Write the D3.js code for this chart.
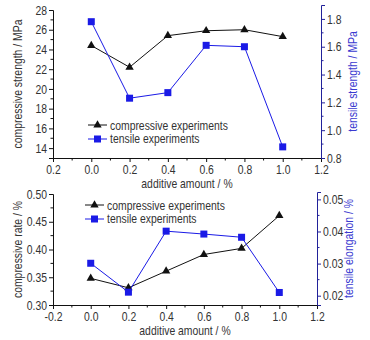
<!DOCTYPE html>
<html>
<head>
<meta charset="utf-8">
<script src="https://cdn.jsdelivr.net/npm/d3@7"></script>
<style>
  body { margin: 0; background: #fff; }
  text { font-family: "Liberation Sans", Arial, sans-serif; }
</style>
</head>
<body>
<div id="chart"></div>
<script>

// data
let amount = [0.0, 0.2, 0.4, 0.6, 0.8, 1.0];

let compStrength = [24.4, 22.2, 25.4, 25.9, 26.0, 25.3];
let tensStrength = [1.78, 1.23, 1.27, 1.61, 1.60, 0.88];

let compRate = [0.348, 0.331, 0.361, 0.391, 0.402, 0.461];
let tensElong = [0.0301, 0.0211, 0.0401, 0.0392, 0.0382, 0.0210];

let xTicks = [-0.2, 0.0, 0.2, 0.4, 0.6, 0.8, 1.0, 1.2];
let xLabelsTop = ["0.2", "0.0", "0.2", "0.4", "0.6", "0.8", "1.0", "1.2"];
let xLabelsBottom = ["-0.2", "0.0", "0.2", "0.4", "0.6", "0.8", "1.0", "1.2"];

let leftTicksTop = [14, 16, 18, 20, 22, 24, 26, 28];
let rightTicksTop = [0.8, 1.0, 1.2, 1.4, 1.6, 1.8];
let leftTicksBottom = [0.30, 0.35, 0.40, 0.45, 0.50];
let rightTicksBottom = [0.02, 0.03, 0.04, 0.05];

let legendNames = ["compressive experiments", "tensile experiments"];

let blackC = "#111";
let blueC = "#1a1ae6";
let axisBlue = "#22229a";
let squeeze = 0.8; // the font in the picture is a narrow one

let svg = d3.select("#chart")
  .append("svg")
    .attr("width", 370)
    .attr("height", 340)
    .style("background", "#fff");

// squeeze text horizontally, keeping its anchor where it was
function narrow(sel) {
  sel.each(function () {
    let t = d3.select(this);
    let xv = +t.attr("x") || 0;
    t.attr("x", xv / squeeze)
      .attr("transform", (t.attr("transform") || "") + ` scale(${squeeze},1)`);
  });
}

function drawPanel(p) {
  let g = svg.append("g");

  let x = d3.scaleLinear().domain([-0.2, 1.2]).range([p.left, p.right]);
  let yL = d3.scaleLinear().domain(p.leftDomain).range([p.bottom, p.topL]);
  let yR = d3.scaleLinear().domain(p.rightDomain).range([p.bottom, p.topR]);

  // x axis
  let xAxis = g.append("g")
    .attr("transform", `translate(0,${p.bottom})`)
    .call(d3.axisBottom(x)
      .tickValues(xTicks)
      .tickSize(4)
      .tickPadding(3)
      .tickFormat((d, i) => p.xLabels[i]));
  xAxis.select(".domain").attr("stroke", blackC);
  xAxis.selectAll(".tick line").attr("stroke", blackC);
  xAxis.selectAll(".tick text").attr("fill", "#333").style("font-size", "13px").call(narrow);
  xAxis.selectAll("minor")
    .data(d3.range(-0.1, 1.2, 0.2))
    .join("line")
    .attr("x1", d => x(d)).attr("x2", d => x(d))
    .attr("y1", 0).attr("y2", 2.5)
    .attr("stroke", blackC);

  // left axis
  let lAxis = g.append("g")
    .attr("transform", `translate(${p.left},0)`)
    .call(d3.axisLeft(yL)
      .tickValues(p.leftTicks)
      .tickSize(4)
      .tickPadding(2)
      .tickFormat(p.leftFormat));
  lAxis.select(".domain").attr("stroke", blackC);
  lAxis.selectAll(".tick line").attr("stroke", blackC);
  lAxis.selectAll(".tick text").attr("fill", "#333").style("font-size", "13px").call(narrow);
  lAxis.selectAll("minor")
    .data(p.leftMinor)
    .join("line")
    .attr("x1", 0).attr("x2", -2.5)
    .attr("y1", d => yL(d)).attr("y2", d => yL(d))
    .attr("stroke", blackC);

  // right axis
  let rAxis = g.append("g")
    .attr("transform", `translate(${p.right},0)`)
    .call(d3.axisRight(yR)
      .tickValues(p.rightTicks)
      .tickSize(4)
      .tickPadding(2)
      .tickFormat(p.rightFormat));
  rAxis.select(".domain").attr("stroke", axisBlue);
  rAxis.selectAll(".tick line").attr("stroke", axisBlue);
  rAxis.selectAll(".tick text").attr("fill", "#333").style("font-size", "13px").call(narrow);
  rAxis.selectAll("minor")
    .data(p.rightMinor)
    .join("line")
    .attr("x1", 0).attr("x2", 2.5)
    .attr("y1", d => yR(d)).attr("y2", d => yR(d))
    .attr("stroke", axisBlue);

  // axis titles
  g.append("text")
    .attr("transform", `translate(${p.left - 31},${(p.bottom + p.topL) / 2}) rotate(-90)`)
    .attr("text-anchor", "middle")
    .style("font-size", "13px")
    .attr("fill", "#333")
    .text(p.leftTitle)
    .call(narrow);

  g.append("text")
    .attr("transform", `translate(${p.right + 36},${(p.bottom + p.topR) / 2}) rotate(-90)`)
    .attr("text-anchor", "middle")
    .style("font-size", "13px")
    .attr("fill", "#3a3ad0")
    .text(p.rightTitle)
    .call(narrow);

  g.append("text")
    .attr("x", (p.left + p.right) / 2)
    .attr("y", p.bottom + 30)
    .attr("text-anchor", "middle")
    .style("font-size", "13px")
    .attr("fill", "#333")
    .text("additive amount / %")
    .call(narrow);

  // lines
  let lineL = d3.line().x((d, i) => x(amount[i])).y(d => yL(d));
  let lineR = d3.line().x((d, i) => x(amount[i])).y(d => yR(d));

  g.append("path")
    .datum(p.leftData)
    .attr("fill", "none")
    .attr("stroke", blackC)
    .attr("stroke-width", 1)
    .attr("d", lineL);

  g.append("path")
    .datum(p.rightData)
    .attr("fill", "none")
    .attr("stroke", blueC)
    .attr("stroke-width", 1)
    .attr("d", lineR);

  let tri = d3.symbol().type(d3.symbolTriangle).size(30);

  g.selectAll("tri")
    .data(p.leftData)
    .join("path")
    .attr("d", tri)
    .attr("transform", (d, i) => `translate(${x(amount[i])},${yL(d)})`)
    .attr("fill", blackC);

  g.selectAll("sq")
    .data(p.rightData)
    .join("rect")
    .attr("x", (d, i) => x(amount[i]) - 3.5)
    .attr("y", d => yR(d) - 3.5)
    .attr("width", 7)
    .attr("height", 7)
    .attr("fill", blueC);

  // legend
  let lg = g.append("g").attr("transform", `translate(${p.legX},${p.legY})`);
  legendNames.forEach((name, i) => {
    let cy = i * 14;
    let col = i === 0 ? blackC : blueC;
    lg.append("line")
      .attr("x1", 0).attr("x2", 19)
      .attr("y1", cy).attr("y2", cy)
      .attr("stroke", col);
    if (i === 0) {
      lg.append("path")
        .attr("d", tri)
        .attr("transform", `translate(9.5,${cy})`)
        .attr("fill", col);
    } else {
      lg.append("rect")
        .attr("x", 6).attr("y", cy - 3.5)
        .attr("width", 7).attr("height", 7)
        .attr("fill", col);
    }
    lg.append("text")
      .attr("x", 22)
      .attr("y", cy + 4.5)
      .style("font-size", "13px")
      .attr("fill", "#333")
      .text(name)
      .call(narrow);
  });
}

// top panel: strength
drawPanel({
  left: 53, right: 321, bottom: 158, topL: 10, topR: 5,
  leftDomain: [13, 28], rightDomain: [0.8, 1.9],
  leftTicks: leftTicksTop, rightTicks: rightTicksTop,
  leftMinor: d3.range(15, 28, 2), rightMinor: [0.9, 1.1, 1.3, 1.5, 1.7],
  leftFormat: d3.format("d"), rightFormat: d3.format(".1f"),
  xLabels: xLabelsTop,
  leftData: compStrength, rightData: tensStrength,
  leftTitle: "compressive strength / MPa",
  rightTitle: "tensile strength / MPa",
  legX: 88, legY: 125
});

// bottom panel: rate / elongation
drawPanel({
  left: 53, right: 317, bottom: 305, topL: 194, topR: 192,
  leftDomain: [0.30, 0.50], rightDomain: [0.0171, 0.0523],
  leftTicks: leftTicksBottom, rightTicks: rightTicksBottom,
  leftMinor: [0.325, 0.375, 0.425, 0.475], rightMinor: [0.025, 0.035, 0.045],
  leftFormat: d3.format(".2f"), rightFormat: d3.format(".2f"),
  xLabels: xLabelsBottom,
  leftData: compRate, rightData: tensElong,
  leftTitle: "compressive rate / %",
  rightTitle: "tensile elongation / %",
  legX: 85, legY: 205
});

</script>
</body>
</html>
